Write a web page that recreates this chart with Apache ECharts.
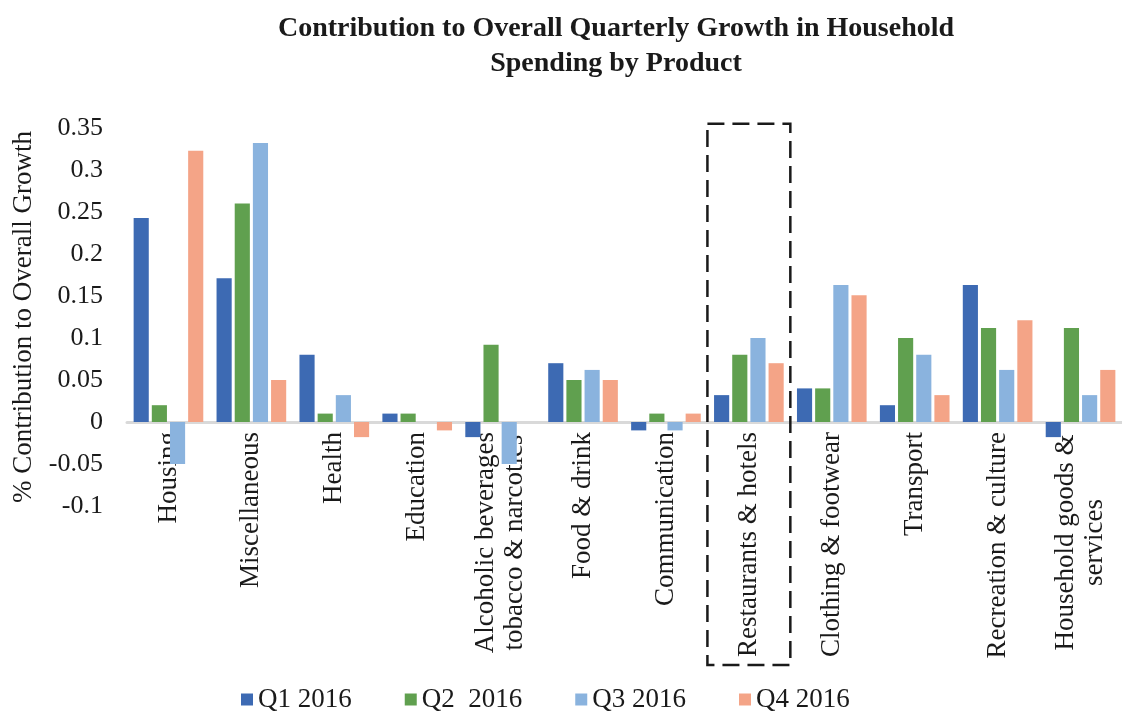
<!DOCTYPE html>
<html>
<head>
<meta charset="utf-8">
<script src="https://cdn.jsdelivr.net/npm/echarts@6/dist/echarts.min.js"></script>
<style>
html,body{margin:0;padding:0;background:#fff;}
#chart{width:1122px;height:711px;}
</style>
</head>
<body>
<div id="chart"></div>
<script>
const categories = ['Housing','Miscellaneous','Health','Education','Alcoholic beverages\ntobacco & narcotics','Food & drink','Communication','Restaurants & hotels','Clothing & footwear','Transport','Recreation & culture','Household goods &\nservices'];
const q1 = [0.243, 0.171, 0.08, 0.01, -0.018, 0.07, -0.01, 0.032, 0.04, 0.02, 0.163, -0.018];
const q2 = [0.02, 0.26, 0.01, 0.01, 0.092, 0.05, 0.01, 0.08, 0.04, 0.1, 0.112, 0.112];
const q3 = [-0.05, 0.332, 0.032, 0, -0.05, 0.062, -0.01, 0.1, 0.163, 0.08, 0.062, 0.032];
const q4 = [0.323, 0.05, -0.018, -0.01, 0, 0.05, 0.01, 0.07, 0.151, 0.032, 0.121, 0.062];
const seriesNames = ['Q1 2016','Q2  2016','Q3 2016','Q4 2016'];
const yTicks = {min: -0.1, max: 0.35, interval: 0.05};
const highlightCategory = 'Restaurants & hotels';

const FONT = '"Liberation Serif", "Times New Roman", serif';
const TXT = '#1a1a1a';
const colors = ['#3d6ab3','#60a04f','#8ab3de','#f4a487'];

// measure multi-line label width to center lines within block
const mctx = document.createElement('canvas').getContext('2d');
mctx.font = '27px "Liberation Serif"';
function labelFmt(v){
  if (v.indexOf('\n') < 0) return v;
  return v.split('\n').map(l => '{c|' + l + '}').join('\n');
}
let maxW = 0;
categories.forEach(c => { if (c.indexOf('\n')>=0) c.split('\n').forEach(l => { maxW = Math.max(maxW, mctx.measureText(l).width); }); });

const chart = echarts.init(document.getElementById('chart'), null, {renderer:'canvas'});
const data = [q1,q2,q3,q4];
const option = {
  animation: false,
  color: colors,
  title: {
    text: 'Contribution to Overall Quarterly Growth in Household\nSpending by Product',
    left: 611, top: 6, textAlign: 'center',
    textStyle: {fontFamily: FONT, fontSize: 28, fontWeight: 'bold', color: TXT, lineHeight: 35}
  },
  legend: {
    data: seriesNames, left: 236, top: 681, itemWidth: 12, itemHeight: 12, itemGap: 53,
    icon: 'rect',
    textStyle: {fontFamily: FONT, fontSize: 27, color: TXT}
  },
  grid: {left: 127, right: 0, top: 128, bottom: 205, containLabel: false, outerBoundsMode: 'none'},
  xAxis: {
    type: 'category', data: categories,
    axisLine: {onZero: true, lineStyle: {color: '#d9d9d9', width: 3}},
    axisTick: {show: false},
    axisLabel: {
      interval: 0, rotate: 90, margin: 10, fontFamily: FONT, fontSize: 27, color: TXT,
      formatter: labelFmt,
      rich: {c: {width: maxW, align: 'center', fontFamily: FONT, fontSize: 27, color: TXT, lineHeight: 29}}
    },
    splitLine: {show: false}
  },
  yAxis: {
    type: 'value', min: yTicks.min, max: yTicks.max, interval: yTicks.interval,
    name: '% Contribution to Overall Growth', nameLocation: 'middle', nameGap: 90,
    nameTextStyle: {fontFamily: FONT, fontSize: 27, color: TXT},
    axisLine: {show: false}, axisTick: {show: false}, splitLine: {show: false},
    axisLabel: {margin: 24, fontFamily: FONT, fontSize: 26, color: TXT}
  },
  series: seriesNames.map((n, i) => ({
    name: n, type: 'bar', data: data[i],
    barGap: '20%', barCategoryGap: '16%',
    itemStyle: {color: colors[i]}
  }))
};
chart.setOption(option);

// place category labels just under the zero line, and draw dashed highlight box
const idx = categories.indexOf(highlightCategory);
const xc = chart.convertToPixel({xAxisIndex: 0}, idx);
const bw = chart.convertToPixel({xAxisIndex: 0}, idx + 1) - xc;
const yTop = chart.convertToPixel({yAxisIndex: 0}, 0.355);
const yZero = chart.convertToPixel({yAxisIndex: 0}, 0);
const yMinPx = chart.convertToPixel({yAxisIndex: 0}, yTicks.min);
chart.setOption({
  xAxis: {axisLabel: {margin: 10 - (yMinPx - yZero)}},
  graphic: [{
    type: 'rect', z: 100,
    shape: {x: xc - bw/2, y: yTop, width: bw, height: (yZero - yTop) + 243},
    style: {fill: 'none', stroke: '#1a1a1a', lineWidth: 2.5, lineDash: [17, 8]}
  }]
});
</script>
</body>
</html>
